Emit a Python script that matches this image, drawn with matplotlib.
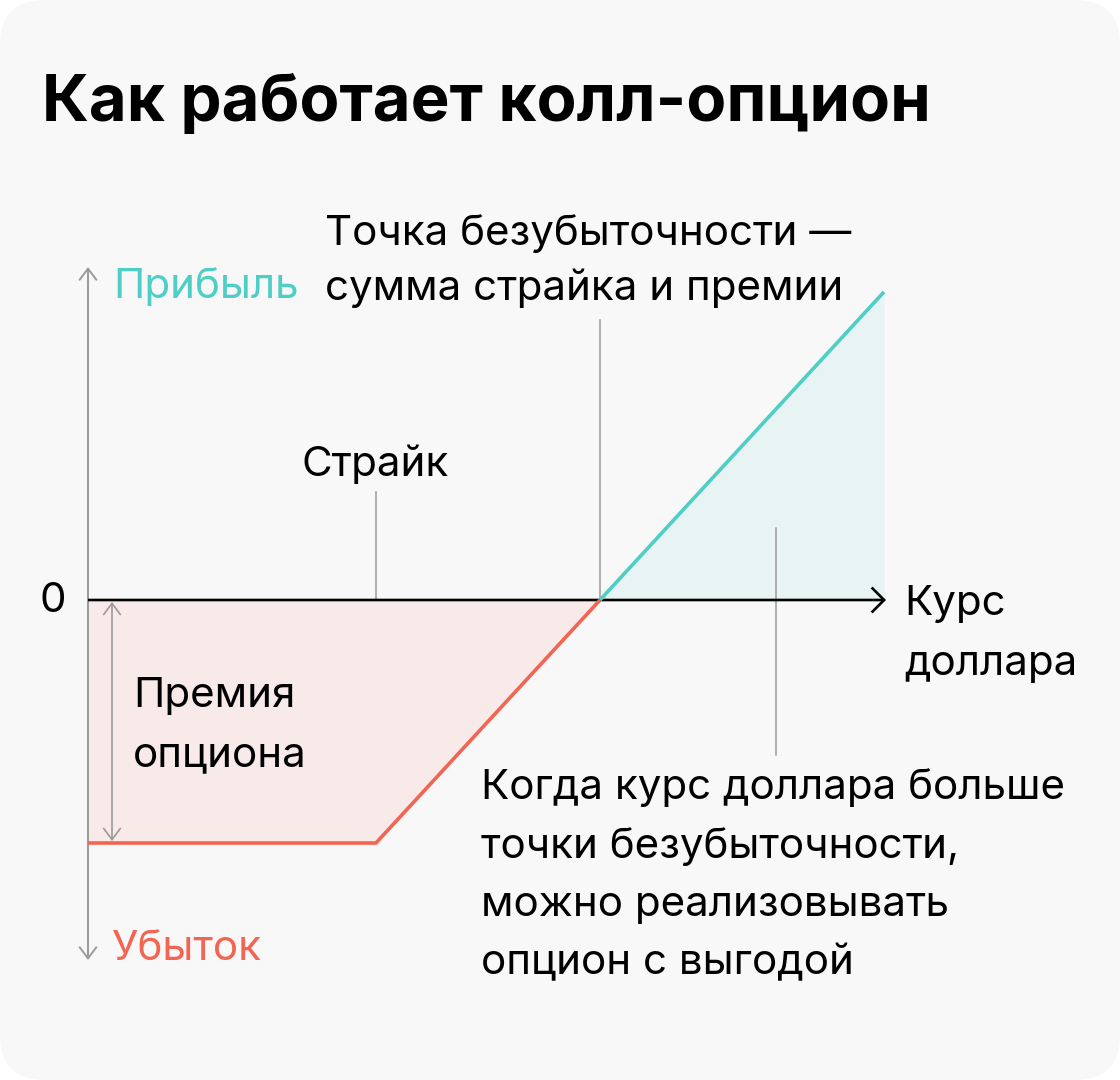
import matplotlib
matplotlib.use("Agg")
import matplotlib.pyplot as plt
import numpy as np
from matplotlib.patches import FancyBboxPatch, FancyArrowPatch

# ---- data ----
prices = np.array([0, 36, 64, 99.5])       # dollar rate: start, strike, breakeven, end
payoff = np.array([-28, -28, 0, 35.5])     # profit / loss of the call option
strike_price = 36
breakeven_price = 64
premium = 28

title = "Как работает колл-опцион"
label_profit = "Прибыль"
label_loss = "Убыток"
label_zero = "0"
label_x = ["Курс", "доллара"]
label_strike = "Страйк"
label_breakeven = ["Точка безубыточности —", "сумма страйка и премии"]
label_premium = ["Премия", "опциона"]
label_note = ["Когда курс доллара больше", "точки безубыточности,",
              "можно реализовывать", "опцион с выгодой"]

# ---- styles ----
TEAL = "#4ecec4"
RED = "#f26552"
TEAL_FILL = "#e7f4f3"
RED_FILL = "#f8eae9"
GRAY = "#9a9a9a"
BG = "#f8f8f8"
FONT = "Inter"

W, H = 1120, 1080
fig = plt.figure(figsize=(W / 100, H / 100), dpi=100)
fig.patch.set_facecolor("white")

# rounded card background
card = FancyBboxPatch((0, 0), 1, 1, boxstyle="round,pad=0,rounding_size=0.04",
                      transform=fig.transFigure, facecolor=BG, edgecolor="none",
                      mutation_aspect=W / H, zorder=-5)
fig.patches.append(card)

# axes mapping: price 0 at x=88px, breakeven at x=600px; payoff 0 at y=600px
sx = (600 - 88) / breakeven_price
sy = (843 - 600) / premium
ax = fig.add_axes([0, 0, 1, 1], zorder=2)
ax.set_xlim(-88 / sx, (W - 88) / sx)
ax.set_ylim(-(H - 600) / sy, 600 / sy)
ax.axis("off")
ax.patch.set_alpha(0)


def px(x, y):
    """pixel (top-left origin) -> data coordinates"""
    return (x - 88) / sx, (600 - y) / sy


# fills
ax.fill_between(prices, payoff, 0, where=payoff <= 0, interpolate=True,
                color=RED_FILL, linewidth=0, zorder=1)
ax.fill_between(prices, payoff, 0, where=payoff >= 0, interpolate=True,
                color=TEAL_FILL, linewidth=0, zorder=1)

# guide lines
ax.plot([strike_price, strike_price], [px(0, 492)[1], 0], color=GRAY, lw=1.1, zorder=2)
ax.plot([breakeven_price, breakeven_price], [px(0, 320)[1], 0], color=GRAY, lw=1.1, zorder=2)
xn = px(776, 0)[0]
ax.plot([xn, xn], [px(0, 528)[1], px(0, 755)[1]], color=GRAY, lw=1.1, zorder=2)

# vertical axis (gray, double arrow)
va = FancyArrowPatch(px(88, 960), px(88, 267), arrowstyle="<->,head_length=0.4,head_width=0.3",
                     mutation_scale=20, color=GRAY, lw=1.4, shrinkA=0, shrinkB=0, zorder=2)
ax.add_patch(va)

# premium double arrow
pa = FancyArrowPatch(px(112, 841), px(112, 602), arrowstyle="<->,head_length=0.4,head_width=0.3",
                     mutation_scale=20, color=GRAY, lw=1.2, shrinkA=0, shrinkB=0, zorder=3)
ax.add_patch(pa)

# horizontal axis (black)
ha = FancyArrowPatch((0, 0), px(886, 600), arrowstyle="->,head_length=0.45,head_width=0.45",
                     mutation_scale=20, color="black", lw=1.9, shrinkA=0, shrinkB=0,
                     zorder=4, capstyle="butt", joinstyle="miter")
ax.add_patch(ha)

# payoff lines
ax.plot(prices[:3], payoff[:3], color=RED, lw=2.6, solid_capstyle="butt", zorder=5)
ax.plot(prices[2:], payoff[2:], color=TEAL, lw=2.6, solid_capstyle="butt", zorder=6)

# ---- texts ----
BODY = 30.3


def t(x, y, s, **kw):
    kw.setdefault("fontsize", BODY)
    kw.setdefault("color", "black")
    kw.setdefault("family", FONT)
    fig.text(x / W, 1 - y / H, s, ha="left", va="baseline", **kw)


t(42, 121, title, fontsize=47, fontweight="bold")
t(325, 245, label_breakeven[0])
t(325, 300, label_breakeven[1])
t(113, 298, label_profit, color=TEAL)
t(301, 476, label_strike)
t(40, 612, label_zero)
t(904, 615, label_x[0])
t(904, 675, label_x[1])
t(133, 707, label_premium[0])
t(133, 766, label_premium[1])
t(112, 960, label_loss, color=RED)
for i, line in enumerate(label_note):
    t(481, 799 + 58.5 * i, line)

fig.savefig("out.png", dpi=100, facecolor=fig.get_facecolor())
